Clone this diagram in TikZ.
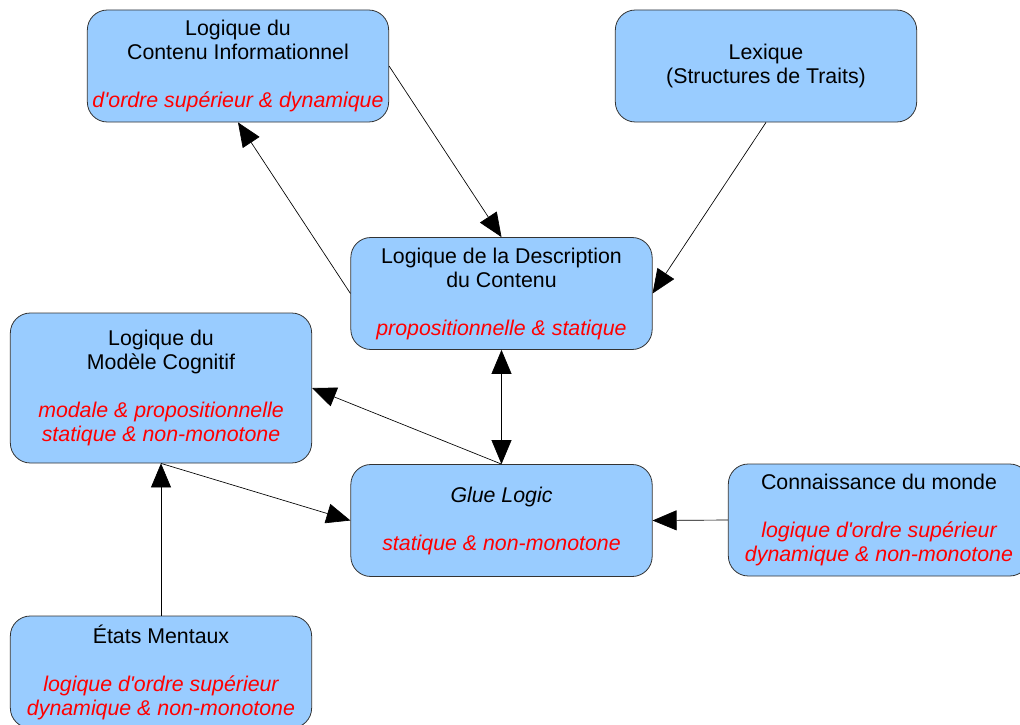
\documentclass[tikz,border=0pt]{standalone}
\usepackage{fontspec}
\setmainfont{Liberation Sans}
\usepackage{xcolor}
\usetikzlibrary{arrows.meta,positioning}
\definecolor{boxblue}{HTML}{99CCFF}
\definecolor{boxline}{HTML}{333333}

\begin{document}
\begin{tikzpicture}[
  x=0.75pt, y=-0.75pt,
  every node/.style = {font=\fontsize{16}{18}\selectfont},
  box/.style  = {draw=boxline, line width=0.6pt, rounded corners=15pt, fill=boxblue,
                 minimum width=226pt, minimum height=84pt, align=center, inner sep=0pt},
  arr/.style  = {-{Triangle[length=18pt,width=15pt]}, line width=0.5pt},
  darr/.style = {{Triangle[length=18pt,width=15pt]}-{Triangle[length=18pt,width=15pt]}, line width=0.5pt},
]
\useasboundingbox (0,0) rectangle (1020,724);

%% ---------- rangée du haut ----------
\node[box] (LCI) at (238,66)
  {Logique du\\Contenu Informationnel\\~\\{\color{red}\itshape d\textquotesingle ordre supérieur \& dynamique}};
\node[box] (LEX) at (766,66) {Lexique\\(Structures de Traits)};

%% ---------- milieu ----------
\node[box] (LDC) at (501.5,293.5)
  {Logique de la Description\\du Contenu\\~\\{\color{red}\itshape propositionnelle \& statique}};
\node[box, minimum height=112.5pt] (LMC) at (161,388)
  {Logique du\\Modèle Cognitif\\~\\{\color{red}\itshape modale \& propositionnelle}\\{\color{red}\itshape statique \& non-monotone}};
\node[box] (GL) at (501.5,520.5)
  {\itshape Glue Logic\\~\\{\color{red}\itshape statique \& non-monotone}};
\node[box] (CM) at (879,520)
  {Connaissance du monde\\~\\{\color{red}\itshape logique d\textquotesingle ordre supérieur}\\{\color{red}\itshape dynamique \& non-monotone}};

%% ---------- bas ----------
\node[box] (EM) at (161,672)
  {États Mentaux\\~\\{\color{red}\itshape logique d\textquotesingle ordre supérieur}\\{\color{red}\itshape dynamique \& non-monotone}};

%% ---------- flèches ----------
\draw[arr] (LCI.east) -- (LDC.north);
\draw[arr] (LDC.west) -- (LCI.south);
\draw[arr] (LEX.south) -- (LDC.east);
\draw[darr] (LDC.south) -- (GL.north);
\draw[arr] (GL.north) -- (LMC.east);
\draw[arr] (LMC.south) -- (GL.west);
\draw[arr] (EM.north) -- (LMC.south);
\draw[arr] (CM.west) -- (GL.east);

\end{tikzpicture}
\end{document}
